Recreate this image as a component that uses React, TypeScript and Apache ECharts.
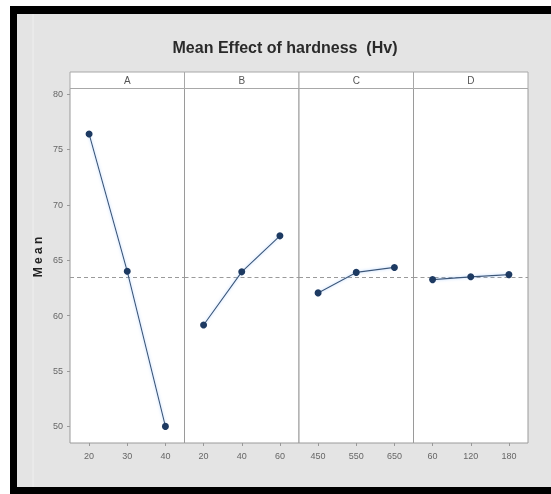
import React, { useEffect, useRef } from "react";
import * as echarts from "echarts";

const panelNames = ["A", "B", "C", "D"];
const levelsA = ["20", "30", "40"];
const levelsB = ["20", "40", "60"];
const levelsC = ["450", "550", "650"];
const levelsD = ["60", "120", "180"];
const meansA = [76.4, 64.0, 50.0];
const meansB = [59.15, 63.95, 67.2];
const meansC = [62.05, 63.9, 64.35];
const meansD = [63.25, 63.5, 63.7];
const yTicks = [50, 55, 60, 65, 70, 75, 80];

const levels = [levelsA, levelsB, levelsC, levelsD];
const means = [meansA, meansB, meansC, meansD];

export default function App() {
  const ref = useRef<HTMLDivElement>(null);
  useEffect(() => {
    if (!ref.current) return;
    const chart = echarts.init(ref.current, null, { renderer: "svg" });
    const all = means.flat();
    const grandMean = all.reduce((a, b) => a + b, 0) / all.length;
    const plotLeft = 70;
    const plotRight = 528;
    const plotTop = 88.5;
    const plotBottom = 443;
    const pw = (plotRight - plotLeft) / 4;
    const grids: any[] = [];
    const xAxes: any[] = [];
    const yAxes: any[] = [];
    const series: any[] = [];
    const graphics: any[] = [
      { type: "rect", shape: { x: 0, y: 0, width: 551, height: 494 }, style: { fill: "#ffffff" }, z: -10 },
      { type: "rect", shape: { x: 10, y: 6, width: 541, height: 488 }, style: { fill: "#e4e4e4" }, z: -9 },
      { type: "rect", shape: { x: 10, y: 6, width: 541, height: 8 }, style: { fill: "#000" }, z: 10 },
      { type: "rect", shape: { x: 10, y: 6, width: 7, height: 488 }, style: { fill: "#000" }, z: 10 },
      { type: "rect", shape: { x: 10, y: 487, width: 541, height: 7 }, style: { fill: "#000" }, z: 10 },
      { type: "line", shape: { x1: 33, y1: 14, x2: 33, y2: 487 }, style: { stroke: "#efefef", lineWidth: 1 }, z: -8 },
      {
        type: "text",
        x: 285,
        y: 47,
        style: {
          text: "Mean Effect of hardness  (Hv)",
          fontSize: 16,
          fontFamily: "Liberation Sans Narrow, Liberation Sans, Arial",
          fontWeight: "bold",
          fill: "#2a2a2a",
          align: "center",
          verticalAlign: "middle",
        },
      },
      {
        type: "text",
        x: 38,
        y: 257,
        rotation: Math.PI / 2,
        style: {
          text: "M e a n",
          fontSize: 12,
          fontFamily: "Liberation Sans, Arial",
          fontWeight: "bold",
          fill: "#222",
          align: "center",
          verticalAlign: "middle",
        },
      },
    ];
    for (let i = 0; i < 4; i++) {
      const left = plotLeft + i * pw;
      grids.push({
        left,
        top: plotTop,
        width: pw,
        height: plotBottom - plotTop,
        show: true,
        backgroundColor: "#ffffff",
        borderColor: "#9a9a9a",
        borderWidth: 1,
      });
      xAxes.push({
        type: "category",
        gridIndex: i,
        data: levels[i],
        boundaryGap: true,
        axisLine: { show: false },
        axisTick: { show: true, alignWithLabel: true, length: 3, lineStyle: { color: "#999" } },
        axisLabel: { fontSize: 9, color: "#666", margin: 8, fontFamily: "Liberation Sans, Arial" },
        splitLine: { show: false },
      });
      yAxes.push({
        type: "value",
        gridIndex: i,
        min: 48.5,
        max: 80.5,
        axisLine: { show: false },
        axisTick: { show: i === 0, length: 3, customValues: yTicks, lineStyle: { color: "#999" } },
        axisLabel: { show: i === 0, fontSize: 9, color: "#666", margin: 7, customValues: yTicks, fontFamily: "Liberation Sans, Arial" },
        splitLine: { show: false },
      });
      series.push({
        type: "line",
        xAxisIndex: i,
        yAxisIndex: i,
        data: means[i],
        symbol: "circle",
        symbolSize: 7,
        itemStyle: { color: "#1d3a62" },
        lineStyle: { color: "#3e5676", width: 1.1, shadowColor: "rgba(140,190,255,0.7)", shadowBlur: 3 },
        markLine: {
          silent: true,
          symbol: "none",
          label: { show: false },
          lineStyle: { color: "#9a9a9a", type: [4, 3], width: 1 },
          data: [{ yAxis: grandMean }],
        },
        z: 5,
      });
      graphics.push({
        type: "rect",
        shape: { x: left, y: 72, width: pw, height: plotTop - 72 },
        style: { fill: "#ffffff", stroke: "#a8a8a8", lineWidth: 1 },
      });
      graphics.push({
        type: "text",
        x: left + pw / 2,
        y: 80.5,
        style: {
          text: panelNames[i],
          fontSize: 10,
          fontFamily: "Liberation Sans, Arial",
          fill: "#555",
          align: "center",
          verticalAlign: "middle",
        },
      });
    }
    chart.setOption({
      animation: false,
      grid: grids,
      xAxis: xAxes,
      yAxis: yAxes,
      series,
      graphic: graphics,
    });
    return () => chart.dispose();
  }, []);
  return (
    <div
      ref={ref}
      style={{ position: "fixed", left: 0, top: 0, width: 551, height: 494 }}
    />
  );
}
